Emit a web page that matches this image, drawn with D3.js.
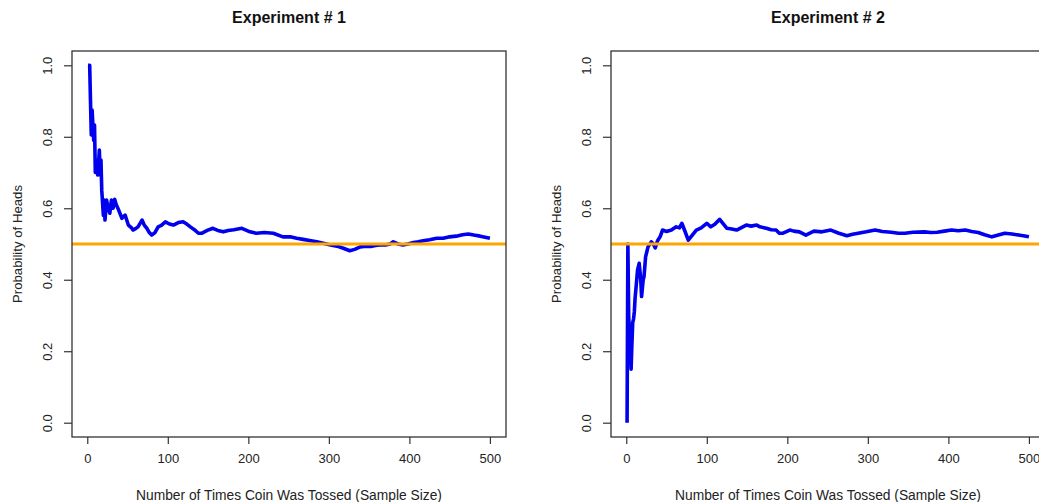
<!DOCTYPE html>
<html>
<head>
<meta charset="utf-8">
<script src="https://cdn.jsdelivr.net/npm/d3@7"></script>
<style>
    body { margin: 0; background: #fff; }
    svg { display: block; font-family: "Liberation Sans", Arial, sans-serif; }
</style>
</head>
<body>
<svg id="chart" width="1039" height="502"></svg>
<script>
// running proportion of heads after n tosses
const exp1N = [1,3,4,5,6,8,9,10,11,13,15,16,17,18,20,21,22,24,26,28,30,32,34,36,39,43,47,51,55,57,60,63,68,71,74,77,80,84,88,92,97,102,107,113,119,124,128,133,138,142,149,156,162,169,175,182,192,202,210,220,231,243,252,260,268,276,285,293,302,310,318,326,332,339,346,352,358,363,370,376,380,386,392,398,405,411,417,425,434,442,450,458,466,473,480,488,494,500];
const exp1P = [1.0,1.0,0.90,0.805,0.875,0.79,0.833,0.70,0.735,0.693,0.763,0.693,0.735,0.65,0.58,0.623,0.567,0.623,0.60,0.586,0.623,0.60,0.625,0.61,0.595,0.572,0.581,0.553,0.545,0.539,0.543,0.548,0.567,0.552,0.544,0.532,0.525,0.532,0.548,0.552,0.562,0.556,0.553,0.56,0.562,0.555,0.548,0.54,0.53,0.53,0.538,0.544,0.538,0.534,0.538,0.54,0.544,0.534,0.53,0.532,0.53,0.52,0.52,0.516,0.513,0.51,0.506,0.502,0.497,0.494,0.488,0.481,0.485,0.492,0.494,0.493,0.496,0.497,0.497,0.5,0.506,0.5,0.497,0.5,0.504,0.506,0.509,0.512,0.516,0.516,0.52,0.522,0.526,0.528,0.525,0.522,0.519,0.516];

const exp2N = [1,2,3,4,5,6,7,8,9,10,11,13,14,16,18,19,21,22,24,27,31,33,36,39,42,45,50,56,62,66,69,73,77,82,87,93,100,105,110,116,121,125,131,137,143,149,155,162,166,174,180,186,190,194,203,208,215,223,233,243,254,264,274,281,288,298,309,318,329,338,346,356,370,378,386,395,404,412,421,429,437,445,454,462,470,479,487,493,500];
const exp2P = [0.0,0.5,0.30,0.25,0.22,0.15,0.22,0.28,0.29,0.31,0.35,0.40,0.427,0.446,0.40,0.353,0.40,0.408,0.464,0.492,0.506,0.502,0.489,0.51,0.52,0.539,0.535,0.539,0.548,0.545,0.558,0.535,0.511,0.525,0.539,0.545,0.558,0.548,0.555,0.569,0.555,0.544,0.542,0.539,0.546,0.553,0.55,0.553,0.548,0.544,0.54,0.539,0.53,0.53,0.539,0.536,0.534,0.525,0.536,0.534,0.539,0.53,0.523,0.527,0.53,0.534,0.539,0.535,0.533,0.53,0.53,0.533,0.534,0.532,0.533,0.536,0.539,0.537,0.539,0.535,0.532,0.526,0.52,0.525,0.53,0.528,0.525,0.523,0.52];

const xTicks = [0, 100, 200, 300, 400, 500];
const yTicks = [0, 0.2, 0.4, 0.6, 0.8, 1.0];
const trueP = 0.5;

const titles = ["Experiment # 1", "Experiment # 2"];
const xLabel = "Number of Times Coin Was Tossed (Sample Size)";
const yLabel = "Probability of Heads";

const svg = d3.select("#chart");

function drawPanel(offsetX, title, ns, ps) {
    const box = { left: 72, top: 51, width: 434, height: 386 };
    const g = svg.append("g").attr("transform", `translate(${offsetX},0)`);

    // R style 4% padding around data range
    let x = d3.scaleLinear()
        .domain([1 - 0.04 * 499, 500 + 0.04 * 499])
        .range([box.left, box.left + box.width]);
    let y = d3.scaleLinear()
        .domain([-0.04, 1.04])
        .range([box.top + box.height, box.top]);

    const clipId = "clip" + offsetX;
    g.append("clipPath").attr("id", clipId)
        .append("rect")
        .attr("x", box.left).attr("y", box.top)
        .attr("width", box.width).attr("height", box.height);

    let line = d3.line()
        .x((d, i) => x(ns[i]))
        .y(d => y(d));

    g.append("path")
        .datum(ps)
        .attr("d", line)
        .attr("fill", "none")
        .attr("stroke", "#0000ee")
        .attr("stroke-width", 3.6)
        .attr("stroke-linejoin", "round")
        .attr("clip-path", `url(#${clipId})`);

    g.append("line")
        .attr("x1", box.left).attr("x2", box.left + box.width)
        .attr("y1", y(trueP)).attr("y2", y(trueP))
        .attr("stroke", "#ffa500")
        .attr("stroke-width", 3.2);

    g.append("rect")
        .attr("x", box.left).attr("y", box.top)
        .attr("width", box.width).attr("height", box.height)
        .attr("fill", "none")
        .attr("stroke", "#333")
        .attr("stroke-width", 1.3);

    let xAxis = d3.axisBottom(x).tickValues(xTicks).tickSize(7).tickPadding(10);
    let xg = g.append("g")
        .attr("transform", `translate(0,${box.top + box.height})`)
        .call(xAxis);
    xg.select(".domain").remove();
    xg.selectAll(".tick line").attr("stroke", "#333").attr("stroke-width", 1.2);
    xg.selectAll(".tick text").attr("fill", "#222").attr("font-size", 13)
        .attr("font-family", "Liberation Sans, Arial, sans-serif");

    let yAxis = d3.axisLeft(y).tickValues(yTicks).tickSize(8).tickFormat(d3.format(".1f"));
    let yg = g.append("g")
        .attr("transform", `translate(${box.left},0)`)
        .call(yAxis);
    yg.select(".domain").remove();
    yg.selectAll(".tick line").attr("stroke", "#333").attr("stroke-width", 1.2);
    yg.selectAll(".tick text")
        .attr("fill", "#222").attr("font-size", 13)
        .attr("font-family", "Liberation Sans, Arial, sans-serif")
        .attr("x", null).attr("dy", null)
        .attr("text-anchor", "middle")
        .attr("dominant-baseline", "central")
        .attr("transform", "translate(-25,0) rotate(-90)");

    g.append("text")
        .attr("x", box.left + box.width / 2)
        .attr("y", 17)
        .attr("text-anchor", "middle")
        .attr("dominant-baseline", "central")
        .attr("font-weight", "bold")
        .attr("font-size", 16)
        .attr("fill", "#111")
        .text(title);

    g.append("text")
        .attr("x", box.left + box.width / 2)
        .attr("y", 495)
        .attr("text-anchor", "middle")
        .attr("dominant-baseline", "central")
        .attr("font-size", 13.8)
        .attr("fill", "#222")
        .text(xLabel);

    g.append("text")
        .attr("transform", `translate(${box.left - 55},${box.top + box.height / 2}) rotate(-90)`)
        .attr("text-anchor", "middle")
        .attr("dominant-baseline", "central")
        .attr("font-size", 13.2)
        .attr("fill", "#222")
        .text(yLabel);
}

drawPanel(0, titles[0], exp1N, exp1P);
drawPanel(539, titles[1], exp2N, exp2P);
</script>
</body>
</html>
